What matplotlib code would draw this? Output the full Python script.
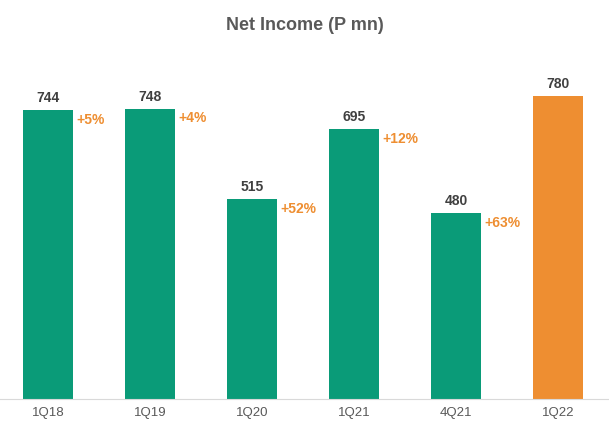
import matplotlib.pyplot as plt

plt.rcParams['font.family'] = ['Liberation Sans', 'DejaVu Sans']

# Data
quarters = ['1Q18', '1Q19', '1Q20', '1Q21', '4Q21', '1Q22']
net_income = [744, 748, 515, 695, 480, 780]
growth = ['+5%', '+4%', '+52%', '+12%', '+63%', '']

green = '#0A9B78'
orange = '#EE8E31'
colors = [green] * 5 + [orange]

fig = plt.figure(figsize=(6.09, 4.42), dpi=100)
ax = fig.add_axes([0.0, 0.097, 1.0, 0.767])

x = range(len(quarters))
bars = ax.bar(x, net_income, width=0.49, color=colors)

for i, (v, g) in enumerate(zip(net_income, growth)):
    ax.annotate(str(v), (i, v), xytext=(0, 3.5), textcoords='offset points',
                ha='center', va='bottom', fontsize=10, fontweight='bold', color='#404040')
    if g:
        ax.annotate(g, (i + 0.28, v), xytext=(0, -2), textcoords='offset points',
                    ha='left', va='top', fontsize=10, fontweight='bold', color=orange)

ax.set_xlim(-0.47, 5.5)
ax.set_ylim(0, 873)
ax.set_xticks(list(x))
ax.set_xticklabels(quarters, fontsize=9.5, color='#595959')
ax.tick_params(axis='x', length=0, pad=6)
ax.set_yticks([])
for s in ['top', 'right', 'left']:
    ax.spines[s].set_visible(False)
ax.spines['bottom'].set_color('#D9D9D9')

fig.text(0.5, 0.943, 'Net Income (P mn)', ha='center', va='center',
         fontsize=13, fontweight='bold', color='#595959')

fig.savefig('out.png', dpi=100)
